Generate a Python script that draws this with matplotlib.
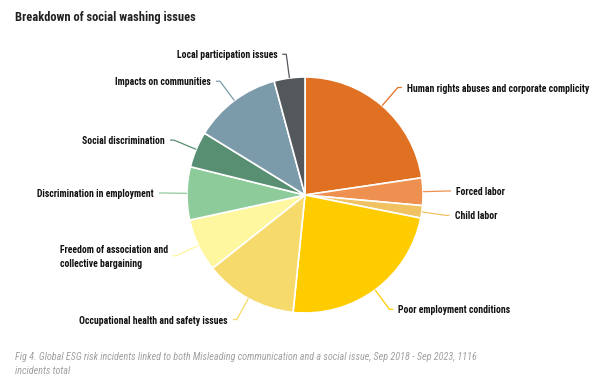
import numpy as np
import matplotlib.pyplot as plt
from matplotlib import font_manager

names = {f.name for f in font_manager.fontManager.ttflist}
family = 'DejaVu Sans'
for cand in ['Roboto Condensed', 'Open Sans Condensed', 'Liberation Sans Narrow', 'Lato']:
    if cand in names:
        family = cand
        break
plt.rcParams['font.family'] = [family, 'DejaVu Sans']

labels = ['Human rights abuses and corporate complicity', 'Forced labor', 'Child labor',
          'Poor employment conditions', 'Occupational health and safety issues',
          'Freedom of association and\ncollective bargaining', 'Discrimination in employment',
          'Social discrimination', 'Impacts on communities', 'Local participation issues']
counts = [253, 42, 19, 262, 142, 81, 81, 55, 134, 47]
colors = ['#E07022', '#EE9150', '#F0C262', '#FFCC00', '#F7DA6C', '#FFF6A0',
          '#8ECB9A', '#588F73', '#7B9AAA', '#53585D']

fig = plt.figure(figsize=(6, 3.9), dpi=100)
ax = fig.add_axes([0, 0, 1, 1])

cx, cy, r = 305, 195, 118
wedges, _ = ax.pie(counts, colors=colors, startangle=-90, counterclock=True,
                   center=(cx, cy), radius=r,
                   wedgeprops=dict(edgecolor='white', linewidth=1.2))
ax.set_xlim(0, 600)
ax.set_ylim(390, 0)
ax.set_aspect('equal')
ax.axis('off')

# leader lines: from slice edge out to an elbow, then a short horizontal stub
for w, lab, col in zip(wedges, labels, colors):
    mid = np.deg2rad((w.theta1 + w.theta2) / 2)
    c, s = np.cos(mid), np.sin(mid)
    x0, y0 = cx + r * c, cy + r * s
    x1, y1 = cx + 142 * c, cy + 142 * s
    side = 1 if c > 0 else -1
    x2 = x1 + 4 * side
    ax.plot([x0, x1, x2], [y0, y1, y1], color=col, lw=0.9, solid_capstyle='butt')
    ax.text(x2 + 5 * side, y1 + 1, lab, ha='left' if side > 0 else 'right', va='center',
            multialignment='left', fontsize=7, fontweight='bold', color='#111111',
            linespacing=1.5)

fig.text(15 / 600, 1 - 18 / 390, 'Breakdown of social washing issues', fontsize=9,
         fontweight='bold', color='#222222', va='center')
fig.text(15 / 600, 1 - 364 / 390,
         'Fig 4. Global ESG risk incidents linked to both Misleading communication and a social issue, '
         'Sep 2018 - Sep 2023, 1116\nincidents total',
         fontsize=7.3, style='italic', color='#A0A0A0', va='center', linespacing=1.45)

fig.savefig('out.png', dpi=100)
